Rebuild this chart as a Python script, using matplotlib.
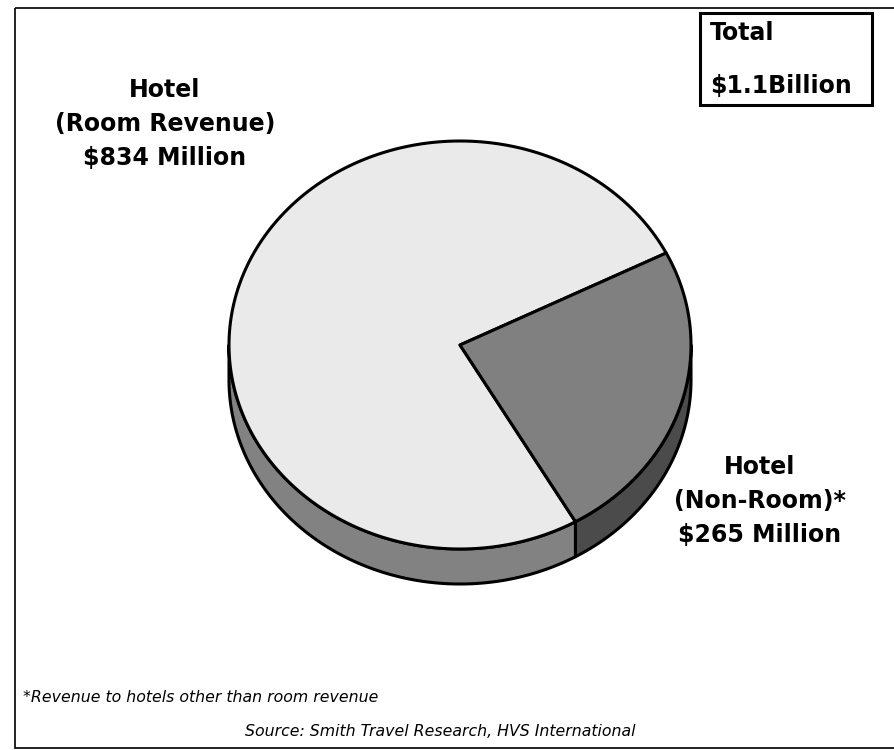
import numpy as np
import matplotlib.pyplot as plt
from matplotlib.patches import Polygon, Rectangle

# Hotel revenue split (millions of dollars)
segments = ["Hotel\n(Room Revenue)\n$834 Million", "Hotel\n(Non-Room)*\n$265 Million"]
values = [834, 265]
total_lines = ["Total", "$1.1Billion"]
footnote = "*Revenue to hotels other than room revenue"
source = "Source: Smith Travel Research, HVS International"

top_colors = ["#eaeaea", "#808080"]
side_colors = ["#828282", "#4b4b4b"]

W, H = 895, 750
fig = plt.figure(figsize=(W / 100, H / 100), dpi=100)
ax = fig.add_axes([0, 0, 1, 1])
ax.set_xlim(0, W)
ax.set_ylim(H, 0)
ax.axis("off")

# outer frame (right side runs off the page)
ax.add_patch(Rectangle((15, 8), 890, 740, fill=False, lw=1.3, ec="#111111"))

# pie geometry (pixels)
cx, cy, rx, ry, depth = 460, 345, 231, 204, 35
start = 26.8  # degrees, room slice starts here and runs counter-clockwise

fracs = np.array(values) / sum(values)
spans = fracs * 360
angles = []
a = start
for s in spans:
    angles.append((a, a + s))
    a += s


def arc(t0, t1, dy=0, n=200):
    t = np.radians(np.linspace(t0, t1, n))
    return np.column_stack([cx + rx * np.cos(t), cy - ry * np.sin(t) + dy])


# side walls: only the front half (180..360 deg) is visible
for (t0, t1), col in zip(angles, side_colors):
    for k in range(-1, 2):
        lo = max(t0, 180 + 360 * k)
        hi = min(t1, 360 + 360 * k)
        if hi <= lo:
            continue
        top = arc(lo, hi)
        bot = arc(lo, hi, depth)[::-1]
        ax.add_patch(Polygon(np.vstack([top, bot]), closed=True,
                             fc=col, ec="black", lw=2.2, joinstyle="round"))

# top faces
for (t0, t1), col in zip(angles, top_colors):
    pts = np.vstack([[cx, cy], arc(t0, t1)])
    ax.add_patch(Polygon(pts, closed=True, fc=col, ec="black", lw=2.2,
                         joinstyle="round"))

font = dict(family="DejaVu Sans", fontweight="bold", fontsize=17)
ax.text(165, 124, segments[0], ha="center", va="center",
        linespacing=1.55, **font)
ax.text(760, 501, segments[1], ha="center", va="center",
        linespacing=1.55, **font)

# total box
ax.add_patch(Rectangle((700, 13), 172, 92, fill=False, lw=2.2, ec="black"))
ax.text(710, 33, total_lines[0], ha="left", va="center", **font)
ax.text(710, 86, total_lines[1], ha="left", va="center", **font)

small = dict(family="DejaVu Sans", style="italic", fontsize=11.3)
ax.text(23, 698, footnote, ha="left", va="center", **small)
ax.text(245, 731, source, ha="left", va="center", **small)

fig.savefig("out.png", dpi=100)
